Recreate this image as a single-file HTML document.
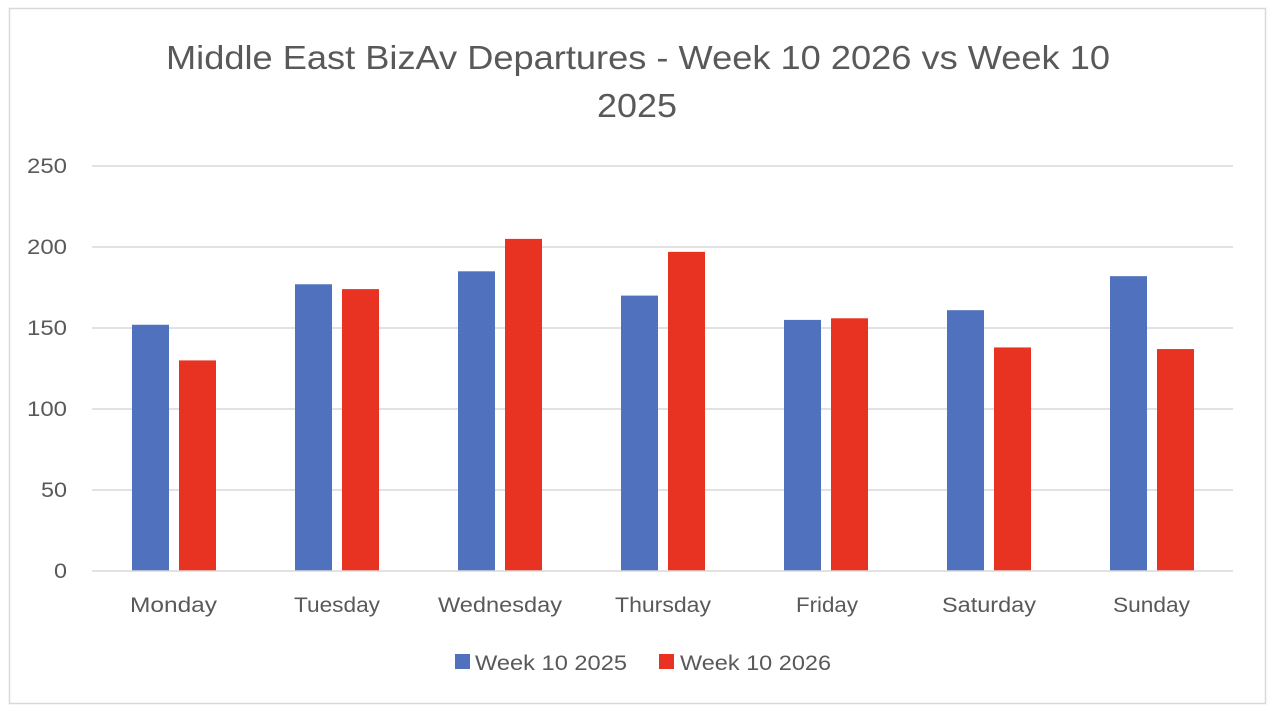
<!DOCTYPE html>
<html><head><meta charset="utf-8"><style>
html,body{margin:0;padding:0;background:#fff;}
svg text{font-family:"Liberation Sans",sans-serif;fill:#595959;}
</style></head><body>
<svg width="1280" height="715" viewBox="0 0 1280 715" xmlns="http://www.w3.org/2000/svg">
<rect x="0" y="0" width="1280" height="715" fill="#fff"/>
<rect x="9.5" y="8.5" width="1256" height="695" fill="#fff" stroke="#d9d9d9" stroke-width="1.5"/>
<text x="166" y="69" font-size="33" textLength="944" lengthAdjust="spacingAndGlyphs">Middle East BizAv Departures - Week 10 2026 vs Week 10</text>
<text x="597" y="117" font-size="33" textLength="80" lengthAdjust="spacingAndGlyphs">2025</text>
<g stroke="#d9d9d9" stroke-width="1.5">
<line x1="92" x2="1233" y1="166" y2="166"/>
<line x1="92" x2="1233" y1="247" y2="247"/>
<line x1="92" x2="1233" y1="328" y2="328"/>
<line x1="92" x2="1233" y1="409" y2="409"/>
<line x1="92" x2="1233" y1="490" y2="490"/>
</g>
<g font-size="21">
<text x="27" y="173" textLength="40" lengthAdjust="spacingAndGlyphs">250</text>
<text x="27" y="254" textLength="40" lengthAdjust="spacingAndGlyphs">200</text>
<text x="27" y="335" textLength="40" lengthAdjust="spacingAndGlyphs">150</text>
<text x="27" y="416" textLength="40" lengthAdjust="spacingAndGlyphs">100</text>
<text x="41" y="497" textLength="26" lengthAdjust="spacingAndGlyphs">50</text>
<text x="54" y="578" textLength="13" lengthAdjust="spacingAndGlyphs">0</text>
</g>
<g id="bars"></g>
<line x1="92" x2="1233" y1="571" y2="571" stroke="#d9d9d9" stroke-width="1.5"/>
<g font-size="21" id="cats"></g>
<rect x="455" y="654" width="15" height="15" fill="#4f71be"/>
<text x="475" y="670" font-size="21" textLength="152" lengthAdjust="spacingAndGlyphs">Week 10 2025</text>
<rect x="659" y="654" width="15" height="15" fill="#e83323"/>
<text x="680" y="670" font-size="21" textLength="151" lengthAdjust="spacingAndGlyphs">Week 10 2026</text>
<script>
var d=[["Monday",152,130,130,87],["Tuesday",177,174,294,86],["Wednesday",185,205,438,124],["Thursday",170,197,615,96],["Friday",155,156,796,62],["Saturday",161,138,942,94],["Sunday",182,137,1113,77]];
var b=document.getElementById("bars"),c=document.getElementById("cats"),ns="http://www.w3.org/2000/svg";
d.forEach(function(r,i){var x0=92+i*163;
[[r[1],"#4f71be",x0+40],[r[2],"#e83323",x0+87]].forEach(function(s){var h=s[0]*1.62;var e=document.createElementNS(ns,"rect");
e.setAttribute("x",s[2]);e.setAttribute("y",571-h);e.setAttribute("width",37);e.setAttribute("height",h);e.setAttribute("fill",s[1]);b.appendChild(e);});
var t=document.createElementNS(ns,"text");t.setAttribute("x",r[3]);t.setAttribute("y",612);t.setAttribute("textLength",r[4]);t.setAttribute("lengthAdjust","spacingAndGlyphs");t.textContent=r[0];c.appendChild(t);});
</script>
</svg>
</body></html>
